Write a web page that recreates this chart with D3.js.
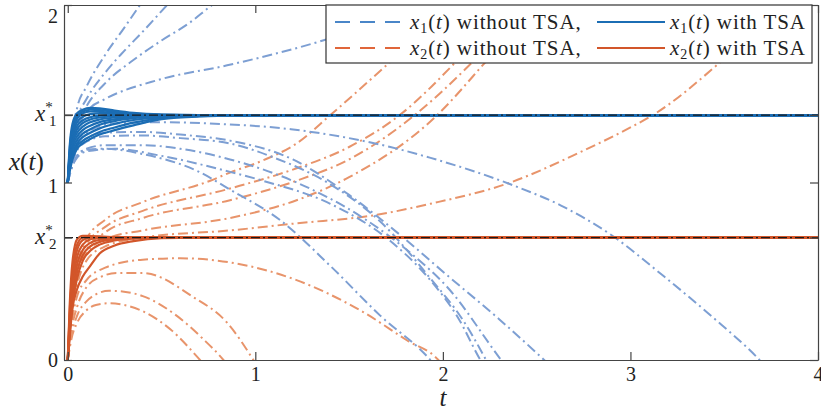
<!DOCTYPE html>
<html>
<head>
<meta charset="utf-8">
<script src="https://cdn.jsdelivr.net/npm/d3@7"></script>
<style>
  body { margin: 0; background: #fff; }
  text { font-family: "Liberation Serif", "DejaVu Serif", serif; fill: #222; }
</style>
</head>
<body>
<div id="chart"></div>
<script>
// equilibrium values
const x1Star = 1.38;
const x2Star = 0.69;

const xTicks = [0, 1, 2, 3, 4];
const yTicks = [0, 1, 2];

// time grid shared by the "with TSA" curves
const tsaT = [0, 0.01, 0.025, 0.05, 0.08, 0.12, 0.17, 0.25, 0.35, 0.5, 0.7, 1.0, 4.05];

// x1(t) with TSA, one row per run
const x1Tsa = [
  [1, 1.20, 1.33, 1.39, 1.41, 1.42, 1.418, 1.405, 1.392, 1.383, 1.380, 1.38, 1.38],
  [1, 1.18, 1.31, 1.375, 1.40, 1.41, 1.408, 1.398, 1.388, 1.381, 1.380, 1.38, 1.38],
  [1, 1.16, 1.29, 1.36, 1.39, 1.40, 1.398, 1.392, 1.385, 1.381, 1.380, 1.38, 1.38],
  [1, 1.15, 1.27, 1.34, 1.37, 1.385, 1.39, 1.386, 1.383, 1.380, 1.38, 1.38, 1.38],
  [1, 1.14, 1.25, 1.32, 1.35, 1.368, 1.376, 1.380, 1.381, 1.380, 1.38, 1.38, 1.38],
  [1, 1.13, 1.23, 1.30, 1.335, 1.355, 1.366, 1.373, 1.377, 1.379, 1.38, 1.38, 1.38],
  [1, 1.12, 1.22, 1.28, 1.315, 1.34, 1.355, 1.366, 1.372, 1.377, 1.379, 1.38, 1.38],
  [1, 1.11, 1.20, 1.26, 1.295, 1.32, 1.34, 1.356, 1.367, 1.375, 1.379, 1.38, 1.38],
  [1, 1.10, 1.18, 1.24, 1.275, 1.30, 1.325, 1.346, 1.362, 1.372, 1.378, 1.38, 1.38],
  [1, 1.09, 1.16, 1.22, 1.255, 1.28, 1.305, 1.33, 1.352, 1.368, 1.376, 1.379, 1.38],
  [1, 1.08, 1.15, 1.205, 1.235, 1.26, 1.285, 1.31, 1.337, 1.362, 1.374, 1.379, 1.38],
  [1, 1.06, 1.13, 1.19, 1.22, 1.245, 1.27, 1.295, 1.322, 1.357, 1.372, 1.378, 1.38]
];

// x2(t) with TSA
const x2Tsa = [
  [0, 0.30, 0.55, 0.68, 0.70, 0.698, 0.695, 0.692, 0.69, 0.69, 0.69, 0.69, 0.69],
  [0, 0.26, 0.50, 0.65, 0.69, 0.697, 0.695, 0.692, 0.69, 0.69, 0.69, 0.69, 0.69],
  [0, 0.23, 0.46, 0.62, 0.675, 0.69, 0.693, 0.692, 0.69, 0.69, 0.69, 0.69, 0.69],
  [0, 0.20, 0.42, 0.58, 0.65, 0.68, 0.688, 0.69, 0.69, 0.69, 0.69, 0.69, 0.69],
  [0, 0.18, 0.38, 0.54, 0.62, 0.66, 0.677, 0.685, 0.689, 0.69, 0.69, 0.69, 0.69],
  [0, 0.16, 0.34, 0.50, 0.59, 0.64, 0.665, 0.68, 0.687, 0.69, 0.69, 0.69, 0.69],
  [0, 0.14, 0.31, 0.46, 0.56, 0.615, 0.65, 0.673, 0.684, 0.689, 0.69, 0.69, 0.69],
  [0, 0.13, 0.29, 0.40, 0.47, 0.53, 0.60, 0.645, 0.67, 0.687, 0.69, 0.69, 0.69]
];

// x1(t) without TSA, [t, x] pairs
const x1NoTsa = [
  [[0,1],[0.015,1.2],[0.05,1.42],[0.1,1.54],[0.2,1.72],[0.3,1.87],[0.385,2.0],[0.45,2.1]],
  [[0,1],[0.015,1.18],[0.05,1.36],[0.1,1.47],[0.2,1.62],[0.3,1.74],[0.4,1.85],[0.53,2.0],[0.6,2.08]],
  [[0,1],[0.015,1.15],[0.05,1.32],[0.1,1.43],[0.2,1.56],[0.35,1.69],[0.5,1.8],[0.65,1.9],[0.77,2.0],[0.85,2.06]],
  [[0,1],[0.02,1.16],[0.06,1.32],[0.12,1.42],[0.19,1.465],[0.49,1.58],[0.85,1.66],[1.36,1.80],[1.7,1.92],[2.0,2.05]],
  [[0,1],[0.02,1.12],[0.05,1.22],[0.117,1.29],[0.224,1.33],[0.49,1.34],[0.81,1.33],[1.19,1.30],[1.5,1.25],[1.72,1.20],[1.93,1.14],[2.36,0.99],[2.63,0.87],[2.89,0.71],[3.18,0.47],[3.44,0.24],[3.67,0.02],[3.75,-0.07]],
  [[0,1],[0.02,1.1],[0.05,1.19],[0.1,1.25],[0.2,1.28],[0.4,1.285],[0.6,1.27],[0.865,1.236],[1.2,1.13],[1.5,0.93],[1.8,0.68],[2.02,0.48],[2.3,0.23],[2.54,0.0],[2.6,-0.06]],
  [[0,1],[0.02,1.1],[0.05,1.18],[0.1,1.23],[0.2,1.26],[0.4,1.265],[0.6,1.25],[0.865,1.22],[1.1,1.14],[1.4,0.99],[1.666,0.78],[1.933,0.46],[2.11,0.22],[2.22,0.02],[2.26,-0.06]],
  [[0,1],[0.02,1.08],[0.05,1.15],[0.1,1.19],[0.2,1.21],[0.4,1.21],[0.6,1.19],[0.865,1.13],[1.22,1.0],[1.575,0.80],[1.842,0.59],[2.024,0.41],[2.31,0.0],[2.36,-0.07]],
  [[0,1],[0.02,1.08],[0.05,1.14],[0.1,1.175],[0.25,1.19],[0.5,1.15],[0.865,1.06],[1.04,1.01],[1.4,0.88],[1.72,0.67],[1.933,0.45],[2.08,0.24],[2.2,0.0],[2.24,-0.07]],
  [[0,1],[0.02,1.08],[0.05,1.15],[0.1,1.185],[0.2,1.19],[0.4,1.16],[0.7,1.06],[0.865,0.96],[1.13,0.79],[1.4,0.53],[1.666,0.25],[1.933,0.0],[1.98,-0.06]]
];

// x2(t) without TSA
const x2NoTsa = [
  [[0,0],[0.02,0.3],[0.05,0.52],[0.1,0.68],[0.2,0.79],[0.4,0.89],[0.76,1.01],[0.865,1.056],[1.04,1.124],[1.22,1.22],[1.40,1.38],[1.72,1.68],[1.9,1.85]],
  [[0,0],[0.02,0.28],[0.05,0.5],[0.1,0.65],[0.2,0.75],[0.4,0.84],[0.865,0.966],[1.22,1.08],[1.5,1.2],[1.77,1.38],[2.06,1.67],[2.3,1.95]],
  [[0,0],[0.02,0.26],[0.05,0.47],[0.1,0.62],[0.2,0.72],[0.4,0.8],[0.865,0.9],[1.22,1.01],[1.5,1.13],[1.85,1.38],[2.15,1.67],[2.4,1.95]],
  [[0,0],[0.02,0.25],[0.05,0.45],[0.1,0.6],[0.2,0.68],[0.4,0.73],[0.865,0.8],[1.22,0.9],[1.5,1.03],[1.97,1.38],[2.22,1.67],[2.45,1.95]],
  [[0,0],[0.02,0.24],[0.05,0.42],[0.1,0.56],[0.2,0.64],[0.4,0.69],[0.865,0.73],[1.22,0.77],[1.63,0.815],[1.933,0.88],[2.36,1.0],[2.73,1.17],[3.0,1.31],[3.12,1.38],[3.47,1.67],[3.8,2.0]],
  [[0,0],[0.02,0.2],[0.05,0.36],[0.1,0.45],[0.2,0.52],[0.4,0.565],[0.6,0.573],[0.865,0.55],[1.22,0.45],[1.575,0.27],[1.81,0.11],[1.976,0.0],[2.0,-0.03]],
  [[0,0],[0.02,0.17],[0.05,0.3],[0.1,0.41],[0.18,0.47],[0.26,0.49],[0.4,0.49],[0.67,0.354],[0.85,0.21],[0.99,0.0],[1.02,-0.05]],
  [[0,0],[0.02,0.14],[0.05,0.25],[0.1,0.33],[0.15,0.37],[0.22,0.39],[0.3,0.385],[0.4,0.36],[0.58,0.25],[0.72,0.12],[0.83,0.0],[0.86,-0.04]],
  [[0,0],[0.02,0.12],[0.05,0.21],[0.1,0.28],[0.15,0.31],[0.22,0.32],[0.3,0.31],[0.4,0.275],[0.55,0.17],[0.705,0.0],[0.73,-0.03]]
];

const W = 821, H = 412;
const plot = { left: 64, right: 818, top: 5, bottom: 360 };

const blue = "#1b6db4", orange = "#d2562a";
const blueLight = "#7d9fd3", orangeLight = "#e8946b";

const svg = d3.select("#chart").append("svg")
  .attr("width", W).attr("height", H);

const x = d3.scaleLinear().domain([-0.02, 4]).range([plot.left, plot.right]);
const y = d3.scaleLinear().domain([0, 2]).range([plot.bottom, plot.top]);

svg.append("clipPath").attr("id", "clip")
  .append("rect")
  .attr("x", plot.left).attr("y", plot.top)
  .attr("width", plot.right - plot.left).attr("height", plot.bottom - plot.top);

const line = d3.line()
  .x(d => x(d[0]))
  .y(d => y(d[1]))
  .curve(d3.curveMonotoneX);

const g = svg.append("g").attr("clip-path", "url(#clip)");

// without TSA (dash-dot, light)
g.selectAll("path.o2").data(x2NoTsa).enter().append("path")
  .attr("d", line)
  .attr("fill", "none")
  .attr("stroke", orangeLight)
  .attr("stroke-width", 2)
  .attr("stroke-dasharray", "10,4,2,4");

g.selectAll("path.o1").data(x1NoTsa).enter().append("path")
  .attr("d", line)
  .attr("fill", "none")
  .attr("stroke", blueLight)
  .attr("stroke-width", 2)
  .attr("stroke-dasharray", "10,4,2,4");

// with TSA (solid)
const toPairs = row => row.map((v, i) => [tsaT[i], v]);

g.selectAll("path.b1").data(x1Tsa.map(toPairs)).enter().append("path")
  .attr("d", line)
  .attr("fill", "none")
  .attr("stroke", blue)
  .attr("stroke-width", 2.2);

g.selectAll("path.b2").data(x2Tsa.map(toPairs)).enter().append("path")
  .attr("d", line)
  .attr("fill", "none")
  .attr("stroke", orange)
  .attr("stroke-width", 2.2);

// equilibrium reference lines
[x1Star, x2Star].forEach(v => {
  g.append("line")
    .attr("x1", plot.left).attr("x2", plot.right)
    .attr("y1", y(v)).attr("y2", y(v))
    .attr("stroke", "#1a1a1a")
    .attr("stroke-width", 1.2)
    .attr("stroke-dasharray", "9,3,2,3");
});

// axes
const axisColor = "#444";
const fontSize = 20;

const xAxis = svg.append("g")
  .attr("transform", `translate(0,${plot.bottom})`)
  .call(d3.axisBottom(x).tickValues(xTicks).tickFormat(d3.format("d"))
    .tickSizeInner(-8).tickSizeOuter(0).tickPadding(7));

const xAxisTop = svg.append("g")
  .attr("transform", `translate(0,${plot.top})`)
  .call(d3.axisTop(x).tickValues(xTicks).tickFormat("")
    .tickSizeInner(-8).tickSizeOuter(0));

const yVals = [0, x2Star, 1, x1Star, 2];
const yAxis = svg.append("g")
  .attr("transform", `translate(${plot.left},0)`)
  .call(d3.axisLeft(y).tickValues(yVals)
    .tickFormat(d => yTicks.includes(d) ? d3.format("d")(d) : "")
    .tickSizeInner(-8).tickSizeOuter(0).tickPadding(6));

const yAxisRight = svg.append("g")
  .attr("transform", `translate(${plot.right},0)`)
  .call(d3.axisRight(y).tickValues(yVals).tickFormat("")
    .tickSizeInner(-8).tickSizeOuter(0));

[xAxis, xAxisTop, yAxis, yAxisRight].forEach(a => {
  a.select(".domain").attr("stroke", axisColor).attr("stroke-width", 1.2);
  a.selectAll(".tick line").attr("stroke", axisColor).attr("stroke-width", 1.2);
  a.selectAll(".tick text")
    .attr("font-family", "Liberation Serif, serif")
    .attr("font-size", fontSize)
    .attr("fill", "#333");
});

// the top label sits a little lower than its tick
yAxis.selectAll(".tick").filter(d => d === 2).select("text").attr("dy", "0.85em");
yAxis.selectAll(".tick").filter(d => d === 1).select("text").attr("dy", "0.5em");

// x* labels
function starLabel(sub, v) {
  const yy = y(v);
  const t = svg.append("text").attr("x", 35).attr("y", yy + 6).attr("font-size", 23);
  t.append("tspan").attr("font-style", "italic").text("x");
  t.append("tspan").attr("font-size", 15).attr("dy", -9).text("*");
  t.append("tspan").attr("x", 49).attr("font-size", 15).attr("dy", 14).text(sub);
}
starLabel("1", x1Star);
starLabel("2", x2Star);

// axis titles
const yl = svg.append("text").attr("x", 9).attr("y", 170).attr("font-size", 25);
yl.append("tspan").attr("font-style", "italic").text("x");
yl.append("tspan").text("(");
yl.append("tspan").attr("font-style", "italic").text("t");
yl.append("tspan").text(")");

svg.append("text").attr("x", x(2)).attr("y", 406)
  .attr("text-anchor", "middle").attr("font-style", "italic")
  .attr("font-size", 25).text("t");

// legend
const legendRows = ["1", "2"];
const lg = svg.append("g");
lg.append("rect")
  .attr("x", 326).attr("y", 5).attr("width", 486).attr("height", 58)
  .attr("fill", "#fff").attr("stroke", "#333").attr("stroke-width", 1.2);

function mathLabel(sel, sub, rest) {
  sel.append("tspan").attr("font-style", "italic").text("x");
  sel.append("tspan").attr("font-size", 14).attr("dy", 4).text(sub);
  sel.append("tspan").attr("dy", -4).text("(");
  sel.append("tspan").attr("font-style", "italic").text("t");
  sel.append("tspan").text(")" + rest);
}

legendRows.forEach((sub, i) => {
  const cy = 22 + i * 26;
  const cLight = i === 0 ? "#4a86c8" : "#e0663a";
  const cSolid = i === 0 ? blue : orange;
  lg.append("line")
    .attr("x1", 335).attr("x2", 401).attr("y1", cy).attr("y2", cy)
    .attr("stroke", cLight).attr("stroke-width", 1.8)
    .attr("stroke-dasharray", "15,10");
  mathLabel(lg.append("text").attr("x", 410).attr("y", cy + 7)
      .attr("font-size", 21).attr("letter-spacing", 0.9),
    sub, " without TSA,");
  lg.append("line")
    .attr("x1", 597).attr("x2", 665).attr("y1", cy).attr("y2", cy)
    .attr("stroke", cSolid).attr("stroke-width", 2);
  mathLabel(lg.append("text").attr("x", 670).attr("y", cy + 7)
      .attr("font-size", 21).attr("letter-spacing", 0.9),
    sub, " with TSA");
});
</script>
</body>
</html>
